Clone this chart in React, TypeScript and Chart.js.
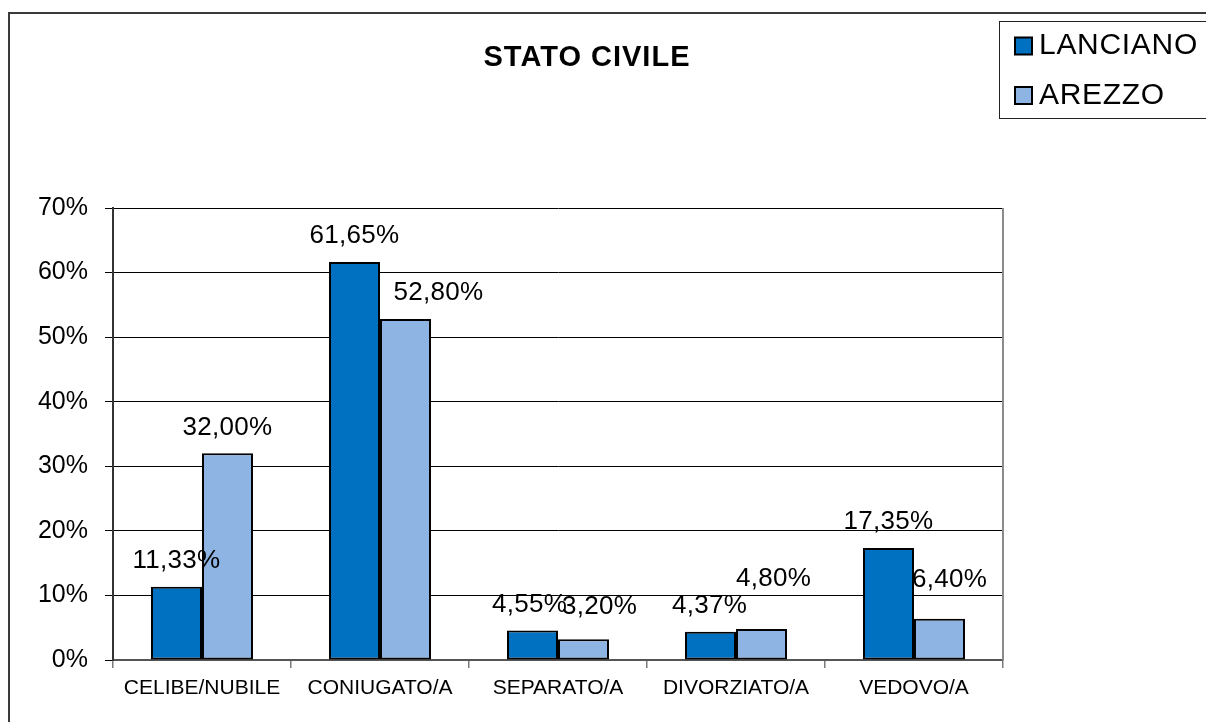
import React, { useEffect, useRef } from "react";
import { Chart, registerables } from "chart.js";

Chart.register(...registerables);

const categories = ["CELIBE/NUBILE", "CONIUGATO/A", "SEPARATO/A", "DIVORZIATO/A", "VEDOVO/A"];
const seriesNames = ["LANCIANO", "AREZZO"];
const lanciano = [11.33, 61.65, 4.55, 4.37, 17.35];
const arezzo = [32.0, 52.8, 3.2, 4.8, 6.4];
const seriesColors = ["#0070C0", "#8EB4E3"];
const yMin = 0;
const yMax = 70;
const yStep = 10;
const titleText = "STATO CIVILE";

const FONT = "'Liberation Sans', Arial, Helvetica, sans-serif";

const fmt = (v: number) => v.toFixed(2).replace(".", ",") + "%";

// label nudges (as in the original, where some labels were moved by hand)
const labelNudge = [
  { dx: [0, 0, -3, -1, 0], dy: [0, 0, 0, 0, 0] },
  { dx: [0, 33, 16, 12, 10], dy: [0, 0, -7, -24, -13] },
];

const framePlugin = {
  id: "frame",
  beforeDraw(chart: any) {
    const { ctx, width, height } = chart;
    ctx.save();
    ctx.fillStyle = "#ffffff";
    ctx.fillRect(0, 0, width, height);
    ctx.strokeStyle = "#3a3a3a";
    ctx.lineWidth = 2;
    ctx.strokeRect(9, 13, width + 50, height + 50);
    ctx.restore();
  },
  afterDatasetsDraw(chart: any) {
    const { ctx } = chart;
    ctx.save();
    ctx.font = `26px ${FONT}`;
    (ctx as any).letterSpacing = "0.3px";
    ctx.fillStyle = "#000";
    ctx.textAlign = "center";
    ctx.textBaseline = "middle";
    chart.data.datasets.forEach((ds: any, di: number) => {
      const meta = chart.getDatasetMeta(di);
      meta.data.forEach((bar: any, i: number) => {
        const n = labelNudge[di];
        ctx.fillText(fmt(ds.data[i]), bar.x + n.dx[i], bar.y - 26 + n.dy[i]);
      });
    });
    (ctx as any).letterSpacing = "0px";
    ctx.restore();
  },
  afterDraw(chart: any) {
    const { ctx, chartArea } = chart;
    ctx.save();
    ctx.strokeStyle = "#8a8a8a";
    ctx.lineWidth = 2;
    ctx.beginPath();
    ctx.moveTo(chartArea.right, chartArea.top);
    ctx.lineTo(chartArea.right, chartArea.bottom);
    ctx.stroke();

    ctx.fillStyle = "#000";
    ctx.font = `bold 29px ${FONT}`;
    (ctx as any).letterSpacing = "1px";
    ctx.textAlign = "center";
    ctx.textBaseline = "middle";
    ctx.fillText(titleText, 587, 58);

    (ctx as any).letterSpacing = "0.7px";
    ctx.strokeStyle = "#222";
    ctx.lineWidth = 1;
    ctx.strokeRect(999.5, 21.5, 300, 97);
    ctx.font = `30px ${FONT}`;
    ctx.textAlign = "left";
    seriesNames.forEach((name, i) => {
      const cy = 46 + i * 49.5;
      ctx.fillStyle = seriesColors[i];
      ctx.fillRect(1015, cy - 8.5, 17, 17);
      ctx.strokeStyle = "#000";
      ctx.lineWidth = 2;
      ctx.strokeRect(1015, cy - 8.5, 17, 17);
      ctx.fillStyle = "#000";
      ctx.fillText(name, 1039, cy);
    });
    (ctx as any).letterSpacing = "0px";
    ctx.restore();
  },
};

export default function App() {
  const ref = useRef<HTMLCanvasElement | null>(null);

  useEffect(() => {
    document.body.style.margin = "0";
    const canvas = ref.current!;
    const chart = new Chart(canvas, {
      type: "bar",
      data: {
        labels: categories,
        datasets: [
          {
            label: seriesNames[0],
            data: lanciano,
            backgroundColor: seriesColors[0],
            borderColor: "#000",
            borderWidth: 2,
            borderSkipped: false,
            categoryPercentage: 0.573,
            barPercentage: 1,
          },
          {
            label: seriesNames[1],
            data: arezzo,
            backgroundColor: seriesColors[1],
            borderColor: "#000",
            borderWidth: 2,
            borderSkipped: false,
            categoryPercentage: 0.573,
            barPercentage: 1,
          },
        ],
      },
      options: {
        responsive: false,
        animation: false,
        devicePixelRatio: 1,
        layout: { padding: { top: 208, right: 203, left: 0, bottom: 0 } },
        plugins: {
          legend: { display: false },
          title: { display: false },
          tooltip: { enabled: false },
        },
        scales: {
          x: {
            afterFit: (axis: any) => {
              axis.height = 62;
            },
            grid: {
              offset: true,
              drawOnChartArea: false,
              drawTicks: true,
              tickLength: 8,
              color: "#7a7a7a",
              lineWidth: 1.5,
            },
            border: { display: true, color: "#555", width: 2 },
            ticks: {
              color: "#000",
              font: { family: FONT, size: 21 },
              padding: 8,
              maxRotation: 0,
              autoSkip: false,
            },
          },
          y: {
            min: yMin,
            max: yMax,
            afterFit: (axis: any) => {
              axis.width = 113;
            },
            grid: {
              color: "#000",
              lineWidth: 1,
              tickLength: 8,
            },
            border: { display: true, color: "#333", width: 2 },
            ticks: {
              stepSize: yStep,
              color: "#000",
              font: { family: FONT, size: 25 },
              padding: 17,
              callback: (v: any) => `${v}%`,
            },
          },
        },
      },
      plugins: [framePlugin],
    });
    return () => chart.destroy();
  }, []);

  return (
    <div style={{ position: "absolute", left: 0, top: 0, width: 1206, height: 722 }}>
      <canvas ref={ref} width={1206} height={722} style={{ display: "block" }} />
    </div>
  );
}
